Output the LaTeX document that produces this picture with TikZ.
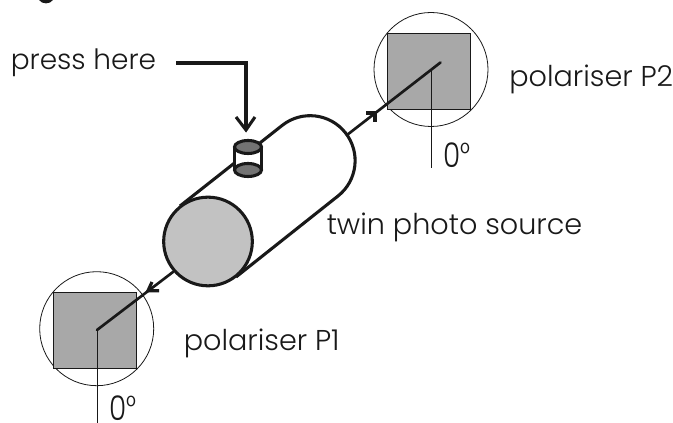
\documentclass[tikz,border=0pt]{standalone}
\usepackage{fontspec}
\setmainfont{Poppins Light}
\newfontfamily\digitfont[FakeStretch=0.82]{Poppins Light}
\definecolor{sqgray}{gray}{0.66}
\definecolor{capgray}{gray}{0.45}
\definecolor{facegray}{gray}{0.76}
\definecolor{ink}{gray}{0.1}
\newcommand{\zerodeg}{{\digitfont\fontsize{25.5}{28}\selectfont 0\raisebox{2.5pt}{\fontsize{23}{24}\selectfont °}}}
\tikzset{
  lbl/.style={inner sep=0pt,anchor=base west,text=ink,font=\fontsize{21.5}{24}\selectfont},
  heavy/.style={draw=ink,line width=2.3pt},
  medium/.style={draw=ink,line width=2pt,line cap=round},
  thin line/.style={draw=ink,line width=0.7pt},
  ringnode/.style={circle,draw=ink,line width=0.6pt,minimum size=85.5pt,inner sep=0pt},
  squarenode/.style={rectangle,fill=sqgray,draw=ink,line width=0.6pt,minimum width=62.4pt,minimum height=57pt,inner sep=0pt},
}
\begin{document}
\begin{tikzpicture}[x=.75pt,y=.75pt]
\useasboundingbox (0,0) rectangle (673,423);
% coordinates: (px, 423-py)
\fill[ink] (39,423) .. controls (42,418.5) and (50,418.5) .. (53,423) -- cycle;
% tube
\coordinate (tubeA) at (180,217);
\coordinate (tubeB) at (282,297);
\coordinate (tubeC) at (338,227);
\coordinate (tubeD) at (236,146);
\coordinate (pP2) at (440.5,360.5);
\coordinate (tP2) at (347,288);
\coordinate (pP1) at (97,93);
\coordinate (tP1) at (173,151);
\fill[white] (tubeA) -- (tubeB) arc[start angle=128.3,end angle=-51.7,radius=45] -- (tubeD) -- cycle;
\draw[heavy] (tubeD) -- (tubeC) arc[start angle=-51.7,end angle=128.3,radius=45] -- (tubeA);
\node[circle,fill=facegray,draw=ink,line width=2.3pt,minimum size=66.5pt,inner sep=0pt] (face) at (208,181.5) {};
% polarisers
\node[ringnode] (ring2) at (431,353.5) {};
\node[squarenode] (sq2) at (429,352) {};
\node[ringnode] (ring1) at (96.7,94.3) {};
\node[squarenode] (sq1) at (95,93) {};
\draw[medium] (pP2) -- (tP2);
\draw[medium] (pP1) -- (tP1);
\coordinate (z2) at (431.3,352);
\coordinate (z2e) at (431.3,255);
\coordinate (z1) at (97,93);
\coordinate (z1e) at (97,0);
\draw[thin line] (z2) -- (z2e);
\draw[thin line] (z1) -- (z1e);
% barbs
\draw[medium,line cap=butt,line width=2.4pt] (366,310) -- (377,310) (375,310) -- (375,301);
\draw[medium,line cap=butt,line width=2.4pt] (159,132.3) -- (148,132.3) -- (152,141);
% press arrow
\node[lbl,font=\fontsize{21}{24}\selectfont] (press) at (10.5,353) {press here};
\coordinate (p1) at (176,360);
\coordinate (p2) at (246,360);
\coordinate (p3) at (246,293);
\draw[heavy] (p1) -- (p2) -- (p3);
\draw[heavy] (236,306) -- (p3) -- (255,306);
% button
\fill[white] (234.5,276) -- (261.5,276) -- (261.5,253) arc[start angle=0,end angle=-180,x radius=13.5,y radius=6] -- cycle;
\draw[heavy,fill=capgray] (248,276) ellipse[x radius=13.5,y radius=6.5];
\draw[heavy,fill=capgray] (248,253) ellipse[x radius=13.5,y radius=6.5];
\draw[heavy] (234.5,253) -- (234.5,276) (261.5,253) -- (261.5,276);
% labels
\node[lbl] (lp2) at (509,336) {polariser P2};
\node[lbl] (lp1) at (183.5,72) {polariser P1};
\node[lbl] (lsrc) at (326.5,188) {twin photo source};
\node[lbl] (d2) at (443,255.5) {\zerodeg};
\node[lbl] (d1) at (109,2) {\zerodeg};
\end{tikzpicture}
\end{document}
